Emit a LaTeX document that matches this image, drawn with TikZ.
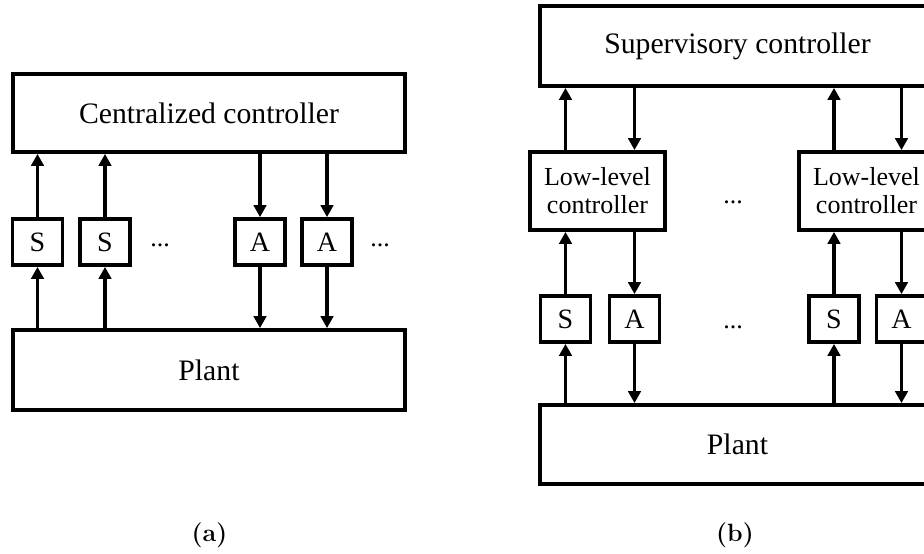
\documentclass[tikz,border=0pt]{standalone}
\usepackage{fontspec}
\newfontfamily\tnr{Liberation Serif}
\usetikzlibrary{arrows.meta}
\tikzset{
  blk/.style={draw, line width=3.8pt, inner sep=0pt, minimum height=79pt, font=\tnr\fontsize{29.7}{32}\selectfont},
  sm/.style={draw, line width=3.8pt, inner sep=0pt, minimum width=50pt, minimum height=46pt, font=\tnr\fontsize{28}{30}\selectfont},
  llc/.style={draw, line width=3.8pt, inner sep=0pt, minimum width=135pt, minimum height=78pt, align=center, font=\tnr\fontsize{26}{28}\selectfont},
  conn/.style={line width=3.4pt, -{Triangle[length=12pt,width=12.5pt]}},
  dotsn/.style={anchor=base, inner sep=0pt, font=\tnr\fontsize{26}{28}\selectfont},
  capt/.style={inner sep=0pt, font=\bfseries\fontsize{25}{27}\selectfont}
}
\begin{document}
\begin{tikzpicture}[x=1pt,y=-1pt]
\useasboundingbox (0,0) rectangle (924,554);
\clip (0,0) rectangle (924,554);
% ---------- (a) ----------
\node[blk, minimum width=392pt, minimum height=78pt] (cc) at (209,113) {Centralized controller};
\node[blk, minimum width=392pt, minimum height=80pt] (pa) at (209,370) {Plant};
\node[sm] (s1) at (37.5,242) {S};
\node[sm] (s2) at (105,242) {S};
\node[sm] (a1) at (260,242) {A};
\node[sm] (a2) at (327,242) {A};
\node[dotsn] (d1) at (160,246) {...};
\node[dotsn] (d2) at (380,246) {...};
\draw[conn] (s1.north) -- (s1.north |- cc.south);
\draw[conn] (s2.north) -- (s2.north |- cc.south);
\draw[conn] (s1.south |- pa.north) -- (s1.south);
\draw[conn] (s2.south |- pa.north) -- (s2.south);
\draw[conn] (a1.north |- cc.south) -- (a1.north);
\draw[conn] (a2.north |- cc.south) -- (a2.north);
\draw[conn] (a1.south) -- (a1.south |- pa.north);
\draw[conn] (a2.south) -- (a2.south |- pa.north);
\node[capt] (ca) at (209.5,535) {(a)};
% ---------- (b) ----------
\node[blk, minimum width=395pt, minimum height=80pt] (sup) at (737.5,46) {Supervisory controller};
\node[llc] (l1) at (597.5,191) {Low-level\\controller};
\node[llc] (l2) at (866.5,191) {Low-level\\controller};
\node[dotsn] (d3) at (733,203) {...};
\node[sm] (rs1) at (565.5,319) {S};
\node[sm] (ra1) at (634.5,319) {A};
\node[sm] (rs2) at (834,319) {S};
\node[sm] (ra2) at (901.5,319) {A};
\node[dotsn] (d4) at (733,328) {...};
\node[blk, minimum width=395pt, minimum height=79pt] (pb) at (737.5,444.5) {Plant};
% sensors up
\draw[conn] (rs1.south |- pb.north) -- (rs1.south);
\draw[conn] (rs1.north) -- (rs1.north |- l1.south);
\draw[conn] (l1.north -| rs1) -- (sup.south -| rs1);
\draw[conn] (rs2.south |- pb.north) -- (rs2.south);
\draw[conn] (rs2.north) -- (rs2.north |- l2.south);
\draw[conn] (l2.north -| rs2) -- (sup.south -| rs2);
% actuators down
\draw[conn] (sup.south -| ra1) -- (l1.north -| ra1);
\draw[conn] (l1.south -| ra1) -- (ra1.north);
\draw[conn] (ra1.south) -- (ra1.south |- pb.north);
\draw[conn] (sup.south -| ra2) -- (l2.north -| ra2);
\draw[conn] (l2.south -| ra2) -- (ra2.north);
\draw[conn] (ra2.south) -- (ra2.south |- pb.north);
\node[capt] (cb) at (735,535) {(b)};
\end{tikzpicture}
\end{document}
